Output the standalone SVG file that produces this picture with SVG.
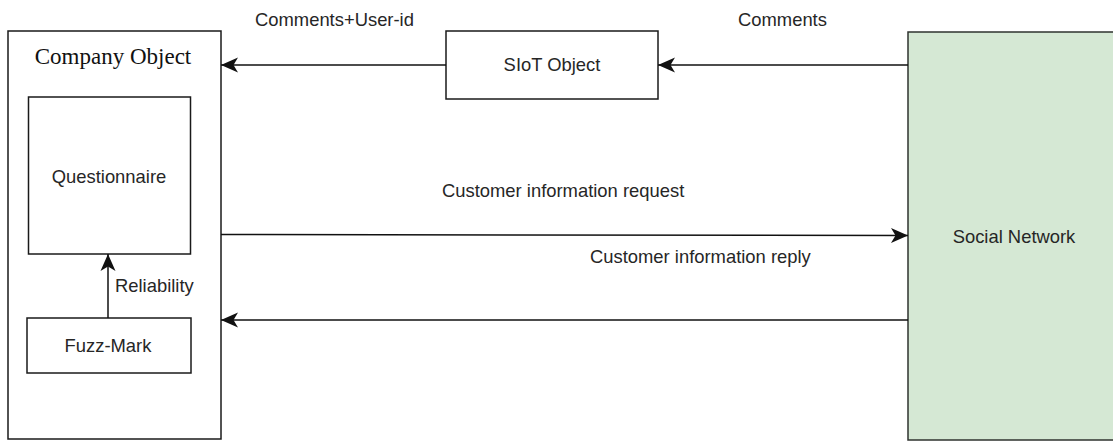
<svg xmlns="http://www.w3.org/2000/svg" width="1113" height="443" viewBox="0 0 1113 443">
  <style>
    .box { fill: #ffffff; stroke: #1a1a1a; stroke-width: 1.5; }
    .green { fill: #d5e8d4; stroke: #2f332f; stroke-width: 1.5; }
    .lbl { font-family: "Liberation Sans", Arial, sans-serif; font-size: 18.4px; fill: #262626; }
    .title { font-family: "Liberation Serif", "Times New Roman", serif; font-size: 23px; fill: #111111; }
    .edge { fill: none; stroke: #111111; stroke-width: 1.5; }
  </style>
  <defs>
    <marker id="arrow" markerUnits="userSpaceOnUse" markerWidth="20" markerHeight="18" viewBox="0 0 20 18" refX="18" refY="9" orient="auto">
      <path d="M18,9 L1,1.5 L5.5,9 L1,16.5 Z" fill="#111111"/>
    </marker>
  </defs>

  <rect width="1113" height="443" fill="#ffffff"/>

  <g id="company-object">
    <rect class="box" x="8" y="31" width="213" height="408"/>
    <text class="title" x="113" y="64" text-anchor="middle">Company Object</text>
  </g>

  <g id="questionnaire">
    <rect class="box" x="28.5" y="97" width="162" height="157"/>
    <text class="lbl" x="109" y="183" text-anchor="middle">Questionnaire</text>
  </g>

  <g id="fuzz-mark">
    <rect class="box" x="27" y="318" width="164" height="55"/>
    <text class="lbl" x="108" y="352" text-anchor="middle">Fuzz-Mark</text>
  </g>

  <g id="siot-object">
    <rect class="box" x="446" y="31" width="212" height="68"/>
    <text class="lbl" x="552" y="71" text-anchor="middle">SIoT Object</text>
  </g>

  <g id="social-network">
    <rect class="green" x="908" y="32" width="220" height="408"/>
    <text class="lbl" x="1014" y="243" text-anchor="middle" fill="#2a3a2a">Social Network</text>
  </g>

  <g id="connectors">
    <line class="edge" x1="908" y1="65" x2="658" y2="65" marker-end="url(#arrow)"/>
    <line class="edge" x1="446" y1="65" x2="221" y2="65" marker-end="url(#arrow)"/>
    <line class="edge" x1="221" y1="234.5" x2="908" y2="235.5" marker-end="url(#arrow)"/>
    <line class="edge" x1="908" y1="320" x2="221" y2="320" marker-end="url(#arrow)"/>
    <line class="edge" x1="108" y1="318" x2="108" y2="254" marker-end="url(#arrow)"/>

    <text class="lbl" x="255" y="26">Comments+User-id</text>
    <text class="lbl" x="738" y="26">Comments</text>
    <text class="lbl" x="442" y="197">Customer information request</text>
    <text class="lbl" x="590" y="263">Customer information reply</text>
    <text class="lbl" x="115" y="292">Reliability</text>
  </g>
</svg>
